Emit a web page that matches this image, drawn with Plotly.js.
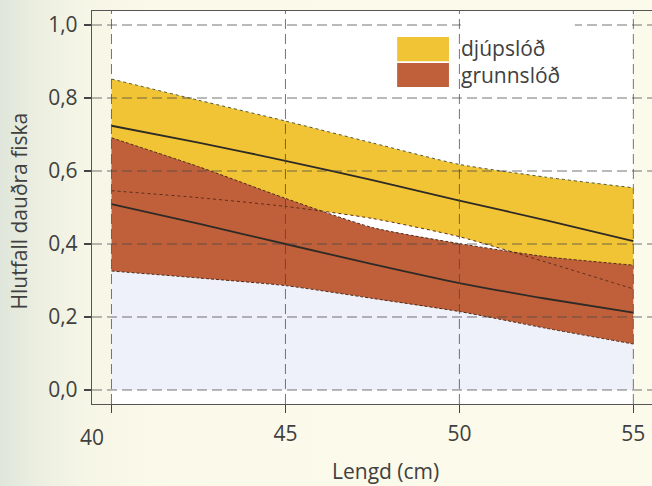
<!DOCTYPE html>
<html>
<head>
<meta charset="utf-8">
<script src="https://cdn.plot.ly/plotly-3.0.1.min.js"></script>
<style>
  html, body { margin: 0; padding: 0; }
  body {
    width: 652px; height: 486px; overflow: hidden;
    background: linear-gradient(90deg, #e0e6db 0px, #ebeee0 35px, #f6f6e6 85px, #fbf9e9 150px, #fcfaeb 652px);
  }
  #chart { width: 652px; height: 486px; }
</style>
</head>
<body>
<div id="chart"></div>
<script>
// ---- data ----
const lengths     = [40, 42.5, 45, 47.5, 50, 52.5, 55];
const djupUpper   = [0.852, 0.794, 0.737, 0.677, 0.618, 0.583, 0.554];
const djupMean    = [0.724, 0.678, 0.628, 0.575, 0.519, 0.465, 0.408];
const djupLower   = [0.546, 0.527, 0.503, 0.470, 0.420, 0.350, 0.277];
const grunnUpper  = [0.691, 0.612, 0.525, 0.445, 0.401, 0.365, 0.342];
const grunnMean   = [0.509, 0.456, 0.400, 0.345, 0.293, 0.250, 0.212];
const grunnLower  = [0.326, 0.307, 0.286, 0.251, 0.215, 0.169, 0.126];
const seriesNames = ['djúpslóð', 'grunnslóð'];
const xTickVals   = [40, 45, 50, 55];
const xTickLabels = ['40', '45', '50', '55'];
const yTickVals   = [0, 0.2, 0.4, 0.6, 0.8, 1.0];
const xTitle = 'Lengd (cm)';
const yTitle = 'Hlutfall dauðra fiska';

// ---- styling ----
const YELLOW = '#f1c436';
const RED = '#c0603b';
const LAVENDER = '#eef0fa';
const FONT = '"Open Sans", "Noto Sans", sans-serif';
const FS = 21;
const TXT = '#404040';
const GRID = 'rgba(70,70,70,0.75)';
const spl = {shape: 'spline', smoothing: 0.6};

function lineOnly(y, style) {
  return {x: lengths, y: y, mode: 'lines', line: Object.assign(style, spl), hoverinfo: 'skip', showlegend: false};
}

const traces = [
  // lavender region below the shallow band
  {x: lengths, y: grunnLower, mode: 'lines', fill: 'tozeroy', fillcolor: LAVENDER,
   line: Object.assign({width: 0}, spl), hoverinfo: 'skip', showlegend: false},
  // deep band fill
  lineOnly(djupLower, {width: 0}),
  {x: lengths, y: djupUpper, mode: 'lines', fill: 'tonexty', fillcolor: YELLOW,
   line: Object.assign({width: 0}, spl), hoverinfo: 'skip', showlegend: false, name: seriesNames[0]},
  // shallow band fill
  lineOnly(grunnLower, {width: 0}),
  {x: lengths, y: grunnUpper, mode: 'lines', fill: 'tonexty', fillcolor: RED,
   line: Object.assign({width: 0}, spl), hoverinfo: 'skip', showlegend: false, name: seriesNames[1]},
  // boundary lines
  lineOnly(djupUpper,  {width: 1, color: '#4d5a3a', dash: 'dot'}),
  lineOnly(djupLower,  {width: 1, color: '#5a2e1e', dash: 'dot'}),
  lineOnly(grunnUpper, {width: 1, color: '#4a2a1c', dash: '3px,2px'}),
  lineOnly(grunnLower, {width: 1, color: '#4a2a1c', dash: '3px,2px'}),
  // means
  lineOnly(djupMean,  {width: 1.8, color: '#2e2a26'}),
  lineOnly(grunnMean, {width: 1.8, color: '#2e2a26'})
];

const xMin = xTickVals[0], xMax = xTickVals[xTickVals.length - 1];
const shapes = [];
// white plotting field
shapes.push({type: 'rect', layer: 'below', xref: 'x', yref: 'paper', x0: xMin, x1: xMax, y0: 0, y1: 1,
             fillcolor: '#ffffff', line: {width: 0}});
// dashed grid above traces
yTickVals.forEach(v => shapes.push({type: 'line', layer: 'above', xref: 'paper', yref: 'y', x0: 0, x1: 1, y0: v, y1: v,
  line: {color: GRID, width: 1, dash: '10px,5px'}}));
xTickVals.forEach(v => shapes.push({type: 'line', layer: 'above', xref: 'x', yref: 'paper', x0: v, x1: v, y0: 0, y1: 1,
  line: {color: GRID, width: 1, dash: '10px,5px'}}));
// legend text background
shapes.push({type: 'rect', layer: 'above', xref: 'x', yref: 'y', x0: 50.04, x1: 53.32, y0: 0.818, y1: 1.02,
             fillcolor: '#ffffff', line: {width: 0}});
// legend swatches
shapes.push({type: 'rect', layer: 'above', xref: 'x', yref: 'y', x0: 48.21, x1: 49.70, y0: 0.901, y1: 0.967,
             fillcolor: YELLOW, line: {width: 0}});
shapes.push({type: 'rect', layer: 'above', xref: 'x', yref: 'y', x0: 48.21, x1: 49.70, y0: 0.830, y1: 0.896,
             fillcolor: RED, line: {width: 0}});

const annotations = [
  {text: seriesNames[0], xref: 'x', yref: 'y', x: 50.0, y: 0.936, xanchor: 'left', yanchor: 'middle',
   showarrow: false, font: {family: FONT, size: FS, color: TXT}},
  {text: seriesNames[1], xref: 'x', yref: 'y', x: 50.0, y: 0.864, xanchor: 'left', yanchor: 'middle',
   showarrow: false, font: {family: FONT, size: FS, color: TXT}},
  {text: xTickLabels[0], xref: 'paper', yref: 'paper', x: 0, y: 0, xanchor: 'center', yanchor: 'middle',
   yshift: -33, showarrow: false, font: {family: FONT, size: FS, color: TXT}},
  {text: xTitle, xref: 'paper', yref: 'paper', x: (385 - 92) / 560, y: 0, xanchor: 'center', yanchor: 'middle',
   yshift: -67, showarrow: false, font: {family: FONT, size: FS, color: TXT}},
  {text: yTitle, xref: 'paper', yref: 'paper', x: 0, y: 0.49, xanchor: 'center', yanchor: 'middle',
   xshift: -73, textangle: -90, showarrow: false, font: {family: FONT, size: FS, color: TXT}}
];

const layout = {
  width: 652, height: 486,
  margin: {l: 92, r: 0, t: 11, b: 82},
  paper_bgcolor: 'rgba(0,0,0,0)',
  plot_bgcolor: 'rgba(0,0,0,0)',
  separators: ',.',
  font: {family: FONT, size: FS, color: TXT},
  xaxis: {
    range: [39.44, 55.536], tickvals: xTickVals,
    ticktext: xTickLabels.map((t, i) => i === 0 ? '' : t),
    showgrid: false, zeroline: false,
    showline: true, mirror: true, linecolor: '#555', linewidth: 1.2,
    ticks: 'outside', ticklen: 8, tickcolor: '#444', tickwidth: 1.2,
    ticklabelstandoff: 3,
    tickfont: {family: FONT, size: FS, color: TXT}
  },
  yaxis: {
    range: [-0.0384, 1.0384], tickvals: yTickVals, tickformat: '.1f',
    showgrid: false, zeroline: false,
    showline: true, linecolor: '#555', linewidth: 1.2,
    ticks: 'outside', ticklen: 7, tickcolor: '#444', tickwidth: 1.2,
    ticklabelstandoff: 2,
    tickfont: {family: FONT, size: FS, color: TXT}
  },
  shapes: shapes,
  annotations: annotations,
  showlegend: false
};

Plotly.newPlot('chart', traces, layout, {displayModeBar: false, staticPlot: true});
</script>
</body>
</html>
